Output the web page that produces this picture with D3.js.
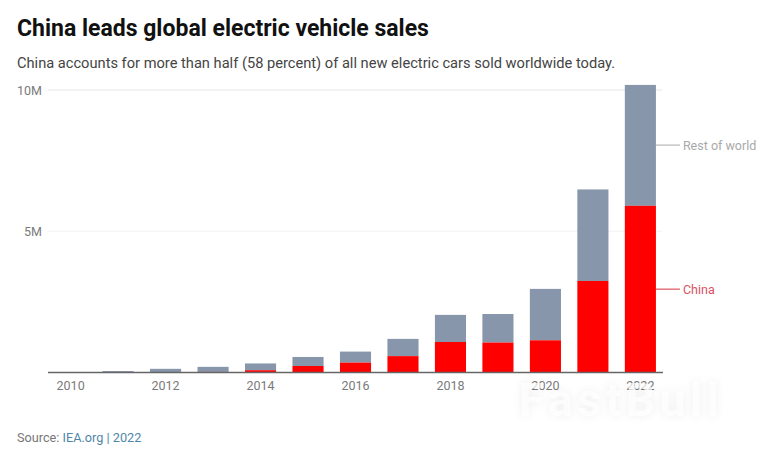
<!DOCTYPE html>
<html lang="en">
<head>
    <meta charset="UTF-8">
    <title>China leads global electric vehicle sales</title>
    <script src="https://d3js.org/d3.v7.min.js"></script>
    <style>
        html, body { margin: 0; padding: 0; background: #fff; }
        svg { display: block; font-family: Roboto, sans-serif; }
        .tick-label { fill: #7a7a7a; font-size: 12.5px; }
        .watermark { fill: #fff; fill-opacity: 0.7; font-size: 46px; font-weight: 700; letter-spacing: 4.6px; filter: drop-shadow(0 0 4px rgba(0,0,0,0.09)); }
    </style>
</head>
<body>
    <div id="chart"></div>
    <script>
        const years = [2010, 2011, 2012, 2013, 2014, 2015, 2016, 2017, 2018, 2019, 2020, 2021, 2022];
        const china = [0.002, 0.005, 0.01, 0.02, 0.08, 0.23, 0.35, 0.58, 1.08, 1.06, 1.14, 3.24, 5.9];
        const restOfWorld = [0.008, 0.045, 0.12, 0.18, 0.24, 0.32, 0.39, 0.61, 0.96, 1.01, 1.82, 3.24, 4.28];
        const yTicks = [5, 10];
        const xTicks = [2010, 2012, 2014, 2016, 2018, 2020, 2022];

        const width = 770, height = 455;
        const svg = d3.select("#chart").append("svg")
            .attr("width", width)
            .attr("height", height);

        const y = d3.scaleLinear().domain([0, 10]).range([372.5, 90]);
        const x = d3.scaleBand().domain(years).range([47, 664]).paddingInner(0.345).paddingOuter(0.17);

        // Title block
        svg.append("text").attr("x", 17).attr("y", 36)
            .attr("font-size", 23).attr("font-weight", 700).attr("fill", "#111")
            .text("China leads global electric vehicle sales");
        svg.append("text").attr("x", 17).attr("y", 68)
            .attr("font-size", 14.65).attr("fill", "#444")
            .text("China accounts for more than half (58 percent) of all new electric cars sold worldwide today.");

        // Gridlines and y labels
        svg.append("g").selectAll("line").data(yTicks).enter().append("line")
            .attr("x1", 48).attr("x2", 662)
            .attr("y1", d => y(d)).attr("y2", d => y(d))
            .attr("stroke", d => d === 10 ? "#e6e6e6" : "#f2f2f2")
            .attr("stroke-width", 1);
        svg.append("g").selectAll("text").data(yTicks).enter().append("text")
            .attr("class", "tick-label")
            .attr("x", 42).attr("y", d => y(d) + 4.5)
            .attr("text-anchor", "end")
            .text(d => d + "M");

        // Stacked bars
        svg.append("g").selectAll("rect").data(years).enter().append("rect")
            .attr("x", d => x(d)).attr("width", x.bandwidth())
            .attr("y", (d, i) => y(china[i] + restOfWorld[i]))
            .attr("height", (d, i) => y(china[i]) - y(china[i] + restOfWorld[i]))
            .attr("fill", "#8796aa");
        svg.append("g").selectAll("rect").data(years).enter().append("rect")
            .attr("x", d => x(d)).attr("width", x.bandwidth())
            .attr("y", (d, i) => y(china[i]))
            .attr("height", (d, i) => y(0) - y(china[i]))
            .attr("fill", "#ff0000");

        // Baseline
        svg.append("line")
            .attr("x1", 48).attr("x2", 663)
            .attr("y1", y(0)).attr("y2", y(0))
            .attr("stroke", "#666").attr("stroke-width", 1.5);

        // X labels
        svg.append("g").selectAll("text").data(xTicks).enter().append("text")
            .attr("class", "tick-label")
            .attr("x", d => x(d) + x.bandwidth() / 2).attr("y", 390)
            .attr("text-anchor", "middle")
            .text(d => d);

        // Direct labels
        const barRight = x(2022) + x.bandwidth();
        const seriesLabels = [
            { name: "Rest of world", mid: 8.05, color: "#a9a9a9", line: "#bdbdbd" },
            { name: "China", mid: 2.95, color: "#d9505f", line: "#e0606c" }
        ];
        seriesLabels.forEach(s => {
            svg.append("line")
                .attr("x1", barRight).attr("x2", barRight + 24)
                .attr("y1", y(s.mid)).attr("y2", y(s.mid))
                .attr("stroke", s.line).attr("stroke-width", 1.3);
            svg.append("text")
                .attr("x", barRight + 27).attr("y", y(s.mid) + 4.5)
                .attr("font-size", 12.5).attr("fill", s.color)
                .text(s.name);
        });

        // Source line
        const source = svg.append("text").attr("x", 17).attr("y", 442).attr("font-size", 12.7).attr("fill", "#777");
        source.append("tspan").text("Source: ");
        source.append("tspan").attr("fill", "#4f86a8").text("IEA.org | 2022");

        // Watermark
        svg.append("text").attr("class", "watermark")
            .attr("x", 519).attr("y", 416)
            .text("FastBull");
    </script>
</body>
</html>
